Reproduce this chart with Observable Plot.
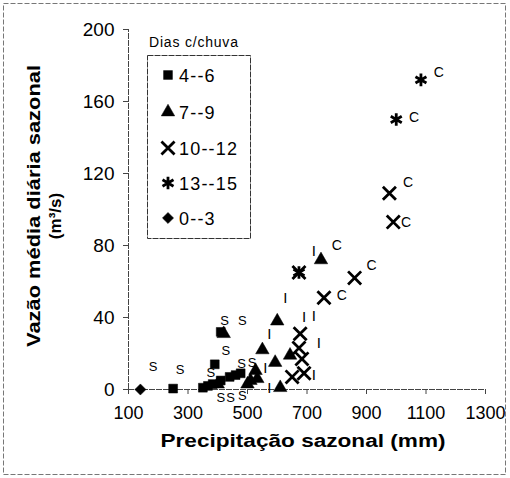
<!DOCTYPE html>
<html><head><meta charset="utf-8">
<script src="https://cdn.jsdelivr.net/npm/d3@7"></script>
<script src="https://cdn.jsdelivr.net/npm/@observablehq/plot@0.6"></script>
<style>body{margin:0;background:#fff} svg{display:block}</style>
</head><body><div id="chart"></div>
<script>
// Legend categories (days with rain) and their symbols
const categories = ["4--6", "7--9", "10--12", "13--15", "0--3"];
const symbolNames = ["square", "triangle", "times", "asterisk", "diamond2"];

// Points: [precipitação sazonal (mm), vazão média diária sazonal (m3/s)]
const pts0_3 = [[140, 0]];
const pts4_6 = [[250, 0.5], [350, 1], [367, 2], [383, 3], [390, 14], [410, 32], [410, 5], [440, 7], [460, 8], [477, 9]];
const pts7_9 = [[400, 3], [420, 31], [500, 3], [510, 5], [527, 10.5], [533, 6], [550, 22], [593, 15], [600, 38], [610, 1], [643, 19], [747, 72]];
const pts10_12 = [[650, 7], [673, 23], [673, 65], [677, 31], [683, 17], [690, 9], [757, 51], [860, 62], [977, 109], [990, 93]];
const pts13_15 = [[673, 65], [1000, 150], [1083, 172]];

// Season letters (S = seco, I = intermediário, C = chuvoso): [precip, flow]
const labS = [[183, 12.8], [273, 11], [423, 38], [483, 38], [427, 21.7], [480, 14], [515, 15], [377, 9.4], [410, -4.5], [443, -4.5], [483, -3.5]];
const labI = [[723, 77], [627, 51], [690, 40], [723, 41], [573, 31], [740, 26], [723, 8], [573, 1], [560, 12]];
const labC = [[800, 80], [917, 69], [817, 52], [1143, 176], [1060, 151], [1040, 115], [1033, 93]];

// Axis ticks
const xTicks = [100, 300, 500, 700, 900, 1100, 1300];
const yTicks = [0, 40, 80, 120, 160, 200];

const xTitle = "Precipitação sazonal (mm)";
const yTitle1 = "Vazão média diária sazonal";
const yTitle2 = "(m³/s)";
const legendTitle = "Dias c/chuva";

const groups = [pts4_6, pts7_9, pts10_12, pts13_15, pts0_3];
const isStrokeSym = s => s === "times" || s === "asterisk";
const data = groups.flatMap((g, i) => g.map(([p, v]) => ({p, v, cat: categories[i], sym: symbolNames[i]})));
const filled = data.filter(d => !isStrokeSym(d.sym));
const stroked = data.filter(d => isStrokeSym(d.sym));
const toObj = a => a.map(([p, v]) => ({p, v}));

const font = "Liberation Sans, Arial, sans-serif";

const chart = Plot.plot({
  width: 510, height: 478,
  marginLeft: 128, marginRight: 25, marginTop: 29, marginBottom: 89,
  style: {fontFamily: font, background: "#fff", color: "#000"},
  x: {domain: [100, 1300]},
  y: {domain: [0, 200]},
  symbol: {domain: symbolNames, range: symbolNames},
  marks: [
    Plot.ruleY([0], {stroke: "#444", strokeWidth: 1, strokeDasharray: "6,1"}),
    Plot.ruleX([100], {y1: 0, y2: 200, stroke: "#444", strokeWidth: 1, strokeDasharray: "6,1"}),
    Plot.axisX({ticks: xTicks, tickFormat: d => String(d), tickSize: 5, tickPadding: 12, fontSize: 18, label: null, stroke: "#444"}),
    Plot.axisY({ticks: yTicks, tickFormat: d => String(d), tickSize: 5, tickPadding: 9, fontSize: 19, label: null, stroke: "#444"}),
    Plot.dot(filled, {x: "p", y: "v", symbol: "sym", fill: "#000", stroke: "#000", strokeWidth: 0.5, r: 5}),
    Plot.dot(stroked, {x: "p", y: "v", symbol: "sym", stroke: "#000", strokeWidth: 2.8, r: 6}),
    Plot.text(toObj(labS), {x: "p", y: "v", text: () => "S", fontSize: 13, fill: "#000"}),
    Plot.text(toObj(labI), {x: "p", y: "v", text: () => "I", fontSize: 15, fill: "#000"}),
    Plot.text(toObj(labC), {x: "p", y: "v", text: () => "C", fontSize: 14, fill: "#000"})
  ]
});
document.getElementById("chart").appendChild(chart);

// Decorations: titles, legend, outer frame
const svg = d3.select(chart);
svg.append("rect").attr("x", 3.5).attr("y", 3.5).attr("width", 502).attr("height", 471)
  .attr("fill", "none").attr("stroke", "#777").attr("stroke-dasharray", "5,2");

svg.append("text").attr("x", 303).attr("y", 447).attr("text-anchor", "middle")
  .attr("font-family", font).attr("font-weight", "bold").attr("font-size", 18)
  .attr("textLength", 285).attr("lengthAdjust", "spacingAndGlyphs").text(xTitle);

svg.append("text").attr("transform", "translate(40,206) rotate(-90)").attr("text-anchor", "middle")
  .attr("font-family", font).attr("font-weight", "bold").attr("font-size", 18)
  .attr("textLength", 282).attr("lengthAdjust", "spacingAndGlyphs").text(yTitle1);
svg.append("text").attr("transform", "translate(61,216) rotate(-90)").attr("text-anchor", "middle")
  .attr("font-family", font).attr("font-weight", "bold").attr("font-size", 17).text(yTitle2);

// legend
const lg = svg.append("g").attr("text-anchor", "start");
lg.append("text").attr("x", 149).attr("y", 47).attr("font-family", font).attr("font-size", 14)
  .attr("letter-spacing", 0.8).text(legendTitle);
lg.append("rect").attr("x", 147.5).attr("y", 55.5).attr("width", 103).attr("height", 183)
  .attr("fill", "#fff").attr("stroke", "#333").attr("stroke-dasharray", "6,1");
const symMap = {square: d3.symbolSquare, triangle: d3.symbolTriangle, times: d3.symbolTimes, asterisk: d3.symbolAsterisk, diamond2: d3.symbolDiamond2};
const rowsY = [75, 112, 148, 183, 218];
categories.forEach((c, i) => {
  const s = symbolNames[i];
  const st = isStrokeSym(s);
  lg.append("path").attr("transform", `translate(168,${rowsY[i]})`)
    .attr("d", d3.symbol(symMap[s], (st ? 6 : 5) ** 2 * Math.PI)())
    .attr("fill", st ? "none" : "#000").attr("stroke", "#000").attr("stroke-width", st ? 2.8 : 0.5);
  lg.append("text").attr("x", 179).attr("y", rowsY[i] + 6.5).attr("font-family", font).attr("font-size", 18)
    .attr("letter-spacing", 1.2).text(c);
});
</script></body></html>
